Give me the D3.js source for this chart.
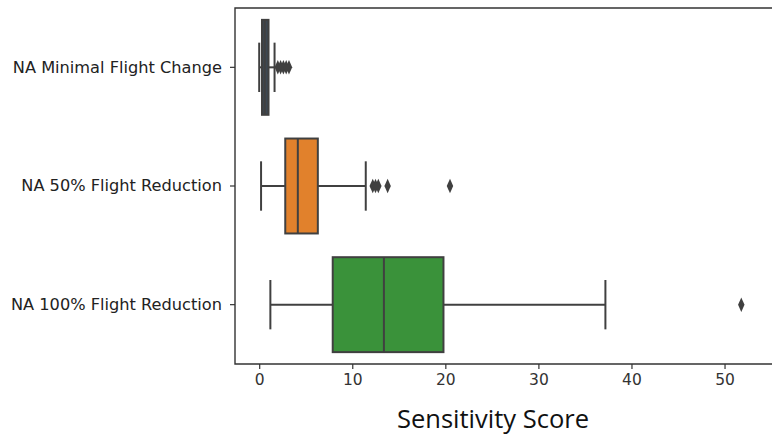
<!DOCTYPE html>
<html><head><meta charset="utf-8">
<script src="https://cdn.jsdelivr.net/npm/d3@7"></script>
<style>body{margin:0;background:#fff}svg{display:block}</style>
</head><body>
<script>
const categories = ["NA Minimal Flight Change", "NA 50% Flight Reduction", "NA 100% Flight Reduction"];
const whiskerLow = [0.0, 0.2, 1.2];
const q1 = [0.3, 2.8, 7.9];
const median = [0.6, 4.15, 13.4];
const q3 = [1.0, 6.3, 19.8];
const whiskerHigh = [1.65, 11.45, 37.2];
const outliers = [[2.0, 2.3, 2.6, 2.9, 3.2], [12.2, 12.5, 12.8, 13.8, 20.5], [51.8]];
const colors = ["#3d4751", "#e1812c", "#3a923a"];
const xTicks = [0, 10, 20, 30, 40, 50];
const xTitle = "Sensitivity Score";

const W = 772, H = 435;
const m = {left: 235, top: 8, right: 0, bottom: 71};
const svg = d3.select("body").append("svg").attr("width", W).attr("height", H);
const x = d3.scaleLinear().domain([-2.6, 55.1]).range([m.left, W]);
const y = d3.scaleBand().domain(categories).range([m.top, H - m.bottom]).paddingInner(0.2).paddingOuter(0.1);
const edge = "#404040";
const sw = 2;

const g = svg.append("g");
categories.forEach((c, i) => {
  const cy = y(c) + y.bandwidth() / 2;
  const bw = y.bandwidth();
  const capH = bw * 0.52;
  g.append("line").attr("x1", x(whiskerLow[i])).attr("x2", x(q1[i])).attr("y1", cy).attr("y2", cy).attr("stroke", edge).attr("stroke-width", sw);
  g.append("line").attr("x1", x(q3[i])).attr("x2", x(whiskerHigh[i])).attr("y1", cy).attr("y2", cy).attr("stroke", edge).attr("stroke-width", sw);
  [whiskerLow[i], whiskerHigh[i]].forEach(v => {
    g.append("line").attr("x1", x(v)).attr("x2", x(v)).attr("y1", cy - capH / 2).attr("y2", cy + capH / 2).attr("stroke", edge).attr("stroke-width", sw);
  });
  g.append("rect").attr("x", x(q1[i])).attr("y", y(c)).attr("width", x(q3[i]) - x(q1[i])).attr("height", bw)
    .attr("fill", colors[i]).attr("stroke", edge).attr("stroke-width", sw);
  g.append("line").attr("x1", x(median[i])).attr("x2", x(median[i])).attr("y1", y(c)).attr("y2", y(c) + bw).attr("stroke", edge).attr("stroke-width", sw);
  const sym = d3.symbol().type(d3.symbolDiamond).size(50);
  outliers[i].forEach(v => {
    g.append("path").attr("d", sym()).attr("transform", `translate(${x(v)},${cy}) scale(0.85,1.1)`).attr("fill", edge);
  });
});

const xAxis = svg.append("g").attr("transform", `translate(0,${H - m.bottom})`)
  .call(d3.axisBottom(x).tickValues(xTicks).tickSize(5).tickPadding(5));
xAxis.select(".domain").remove();
xAxis.selectAll("line").attr("stroke", "#333").attr("stroke-width", 1.2);
xAxis.selectAll("text").attr("font-family", "DejaVu Sans").attr("font-size", 15.5).attr("fill", "#333");

const yAxis = svg.append("g").attr("transform", `translate(${m.left},0)`)
  .call(d3.axisLeft(y).tickSize(5).tickPadding(8));
yAxis.select(".domain").remove();
yAxis.selectAll("line").attr("stroke", "#333").attr("stroke-width", 1.2);
yAxis.selectAll("text").attr("font-family", "DejaVu Sans").attr("font-size", 16.2).attr("fill", "#222");

svg.append("path").attr("d", `M${W},${m.top}H${m.left}V${H - m.bottom}H${W}`).attr("fill", "none").attr("stroke", "#333").attr("stroke-width", 1.4);

svg.append("text").attr("x", 493).attr("y", 428).attr("text-anchor", "middle")
  .attr("font-family", "Open Sans").attr("font-size", 25.5).attr("fill", "#111").text(xTitle);
</script>
</body></html>
